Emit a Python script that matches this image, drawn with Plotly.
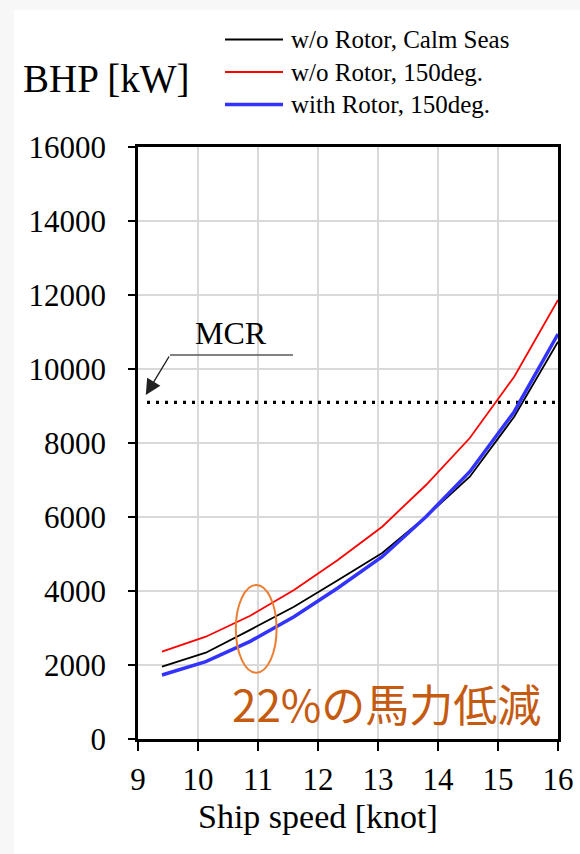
import plotly.graph_objects as go

# ---- data ----
speed = [9.4, 10.13, 10.87, 11.6, 12.33, 13.07, 13.8, 14.53, 15.27, 16.0]
bhp_calm = [1955, 2332, 2950, 3575, 4290, 5027, 6008, 7090, 8711, 10738]
bhp_150_no_rotor = [2360, 2765, 3330, 4027, 4838, 5738, 6865, 8135, 9792, 11865]
bhp_150_rotor = [1730, 2090, 2640, 3305, 4080, 4927, 6008, 7224, 8846, 10946]
mcr_value = 9100
mcr_x = [9.15, 16.0]
x_ticks = [9, 10, 11, 12, 13, 14, 15, 16]
x_tick_text = ["9", "10", "11", "12", "13", "14", "15", "16"]
y_ticks = [0, 2000, 4000, 6000, 8000, 10000, 12000, 14000, 16000]
y_tick_text = ["0", "2000", "4000", "6000", "8000", "10000", "12000", "14000", "16000"]
series_names = ["w/o Rotor, Calm Seas", "w/o Rotor, 150deg.", "with Rotor, 150deg."]
series_colors = ["#000000", "#FF0000", "#3333FF"]
series_widths = [1.8, 1.8, 3.5]

W, H = 580, 854
L, R, T, B = 138, 22, 147, 115
PW, PH = W - L - R, H - T - B


def px(xp):
    return (xp - L) / PW


def py(yp):
    return (H - B - yp) / PH


SERIF = "Liberation Serif, Times New Roman, serif"

fig = go.Figure()

fig.add_trace(go.Scatter(x=mcr_x, y=[mcr_value, mcr_value], mode="lines",
                         line=dict(color="black", width=3.2, dash="3px,6px"),
                         showlegend=False, hoverinfo="skip"))
for ys, name, col, wd in zip([bhp_calm, bhp_150_no_rotor, bhp_150_rotor],
                             series_names, series_colors, series_widths):
    fig.add_trace(go.Scatter(x=speed, y=ys, mode="lines", name=name,
                             line=dict(color=col, width=wd), showlegend=False))

shapes = [
    dict(type="rect", xref="paper", yref="paper", x0=px(14), x1=px(W + 5),
         y0=py(H + 5), y1=py(10), fillcolor="white", line=dict(width=0), layer="below"),
    dict(type="line", xref="x", yref="y", x0=9.533, x1=11.583, y0=10378, y1=10378,
         line=dict(color="#595959", width=1.5)),
    dict(type="circle", xref="x", yref="y", x0=10.63, x1=11.31, y0=1792, y1=4162,
         line=dict(color="#ED7D31", width=2)),
]

annotations = [
    dict(x=9.13, y=9297, ax=9.533, ay=10378, axref="x", ayref="y", xref="x", yref="y",
         text="", showarrow=True, arrowhead=2, arrowsize=2.2, arrowwidth=1.4,
         arrowcolor="#202020"),
    dict(x=10.55, y=10973, xref="x", yref="y", text="MCR", showarrow=False,
         font=dict(family=SERIF, size=32, color="black")),
    dict(x=px(386), y=py(703), xref="paper", yref="paper", text="22%の馬力低減",
         showarrow=False, xanchor="center", yanchor="middle",
         font=dict(family="Noto Sans CJK JP", size=44, color="#C55A11")),
    dict(x=px(106), y=py(78), xref="paper", yref="paper", text="BHP [kW]",
         showarrow=False, xanchor="center", yanchor="middle",
         font=dict(family=SERIF, size=39, color="black")),
    dict(x=px(318), y=py(816), xref="paper", yref="paper", text="Ship speed [knot]",
         showarrow=False, xanchor="center", yanchor="middle",
         font=dict(family=SERIF, size=34, color="black")),
]

# manual legend: one multi-line text block with sample lines beside each row
LEG_FONT = 25
leg_gap = LEG_FONT * 1.3
leg_center = 72
leg_rows = [leg_center - leg_gap, leg_center, leg_center + leg_gap]
for col, wd, ry in zip(series_colors, series_widths, leg_rows):
    shapes.append(dict(type="line", xref="paper", yref="paper", x0=px(225), x1=px(283),
                       y0=py(ry), y1=py(ry), line=dict(color=col, width=wd)))
annotations.append(dict(x=px(290), y=py(leg_center), xref="paper", yref="paper",
                        text="<br>".join(series_names), align="left",
                        showarrow=False, xanchor="left", yanchor="middle",
                        borderpad=0,
                        font=dict(family=SERIF, size=LEG_FONT, color="black")))

fig.update_layout(
    width=W, height=H,
    margin=dict(l=L, r=R, t=T, b=B, autoexpand=False),
    paper_bgcolor="#f7f7f7", plot_bgcolor="white",
    shapes=shapes, annotations=annotations,
    showlegend=False,
    font=dict(family=SERIF, color="black"),
    xaxis=dict(range=[9, 16], tickvals=x_ticks, ticktext=x_tick_text, ticks="outside",
               ticklen=9, tickwidth=2,
               tickcolor="black", showline=True, linecolor="black", linewidth=2.5,
               mirror=True, showgrid=True, gridcolor="#d9d9d9", gridwidth=1.5,
               zeroline=False, tickfont=dict(family=SERIF, size=31),
               ticklabelstandoff=2),
    yaxis=dict(range=[0, 16000], tickvals=y_ticks, ticktext=y_tick_text, ticks="outside",
               ticklen=7, tickwidth=2,
               tickcolor="black", showline=True, linecolor="black", linewidth=2.5,
               mirror=True, showgrid=True, gridcolor="#d9d9d9", gridwidth=1.5,
               zeroline=False, tickfont=dict(family=SERIF, size=31),
               ticklabelstandoff=16),
)

fig.write_html("out.html", config={"displayModeBar": False},
               post_script="document.body.style.margin='0';document.body.style.overflow='hidden';")
